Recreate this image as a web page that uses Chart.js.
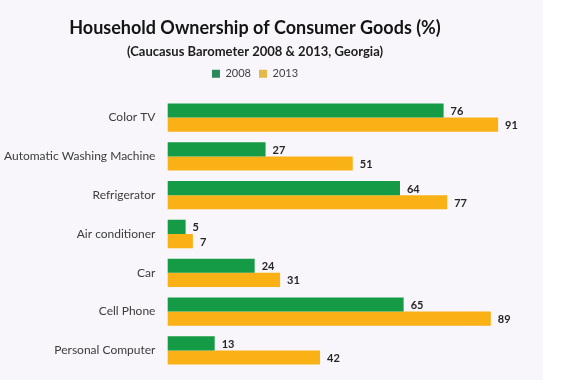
<!DOCTYPE html>
<html>
<head>
<meta charset="utf-8">
<script src="https://cdn.jsdelivr.net/npm/chart.js@4/dist/chart.umd.min.js"></script>
<style>
  html, body { margin: 0; padding: 0; background: #ffffff; }
  #wrap { width: 580px; height: 380px; position: relative; }
</style>
</head>
<body>
<div id="wrap"><canvas id="c" width="580" height="380"></canvas></div>
<script>
const categories = ["Color TV", "Automatic Washing Machine", "Refrigerator", "Air conditioner", "Car", "Cell Phone", "Personal Computer"];
const values2008 = [76, 27, 64, 5, 24, 65, 13];
const values2013 = [91, 51, 77, 7, 31, 89, 42];
const seriesNames = ["2008", "2013"];

const FONT = "Lato, 'Open Sans', sans-serif";

const bgPlugin = {
  id: 'bg',
  beforeDraw(chart) {
    const ctx = chart.ctx;
    ctx.save();
    ctx.fillStyle = '#f8f6fa';
    ctx.fillRect(0, 0, 543, chart.height);
    ctx.restore();
  }
};

const legendSpace = {
  id: 'legendSpace',
  beforeInit(chart) {
    const orig = chart.legend.fit;
    chart.legend.fit = function () {
      orig.call(this);
      this.height += 9;
    };
  }
};

const valueLabels = {
  id: 'valueLabels',
  afterDatasetsDraw(chart) {
    const ctx = chart.ctx;
    ctx.save();
    ctx.font = "bold 11px " + FONT;
    ctx.fillStyle = '#262626';
    ctx.textAlign = 'left';
    ctx.textBaseline = 'middle';
    chart.data.datasets.forEach((ds, i) => {
      const meta = chart.getDatasetMeta(i);
      meta.data.forEach((bar, j) => {
        ctx.fillText(String(ds.data[j]), bar.x + 7, bar.y + 1);
      });
    });
    ctx.restore();
  }
};

new Chart(document.getElementById('c'), {
  type: 'bar',
  data: {
    labels: categories,
    datasets: [
      { label: seriesNames[0], data: values2008, backgroundColor: '#159a45', borderWidth: 0,
        categoryPercentage: 0.73, barPercentage: 1.0 },
      { label: seriesNames[1], data: values2013, backgroundColor: '#fab116', borderWidth: 0,
        categoryPercentage: 0.73, barPercentage: 1.0 }
    ]
  },
  options: {
    indexAxis: 'y',
    responsive: false,
    animation: false,
    layout: { padding: { left: 1, right: 71, top: 0, bottom: 0 } },
    scales: {
      x: { display: false, min: 0, max: 94 },
      y: {
        grid: { display: false, drawTicks: true, tickLength: 9 },
        border: { display: false },
        ticks: { color: '#3c3c3c', font: { family: FONT, size: 12 }, padding: 3 }
      }
    },
    plugins: {
      title: {
        display: true,
        text: 'Household Ownership of Consumer Goods (%)',
        color: '#141414',
        font: { family: FONT, size: 18, weight: 'bold' },
        padding: { top: 17, bottom: 0 }
      },
      subtitle: {
        display: true,
        text: '(Caucasus Barometer 2008 & 2013, Georgia)',
        color: '#1c1c1c',
        font: { family: FONT, size: 13, weight: 'bold' },
        padding: { top: 5, bottom: 1 }
      },
      legend: {
        display: true,
        position: 'top',
        labels: {
          boxWidth: 8, boxHeight: 8, padding: 8,
          color: '#404040',
          font: { family: FONT, size: 11 },
          generateLabels(chart) {
            const cols = ['#2a8a5e', '#e6b84a'];
            return chart.data.datasets.map((ds, i) => ({
              text: ds.label, fillStyle: cols[i], strokeStyle: cols[i], lineWidth: 0,
              hidden: false, datasetIndex: i, fontColor: '#404040'
            }));
          }
        }
      },
      tooltip: { enabled: false }
    }
  },
  plugins: [bgPlugin, legendSpace, valueLabels]
});
</script>
</body>
</html>
